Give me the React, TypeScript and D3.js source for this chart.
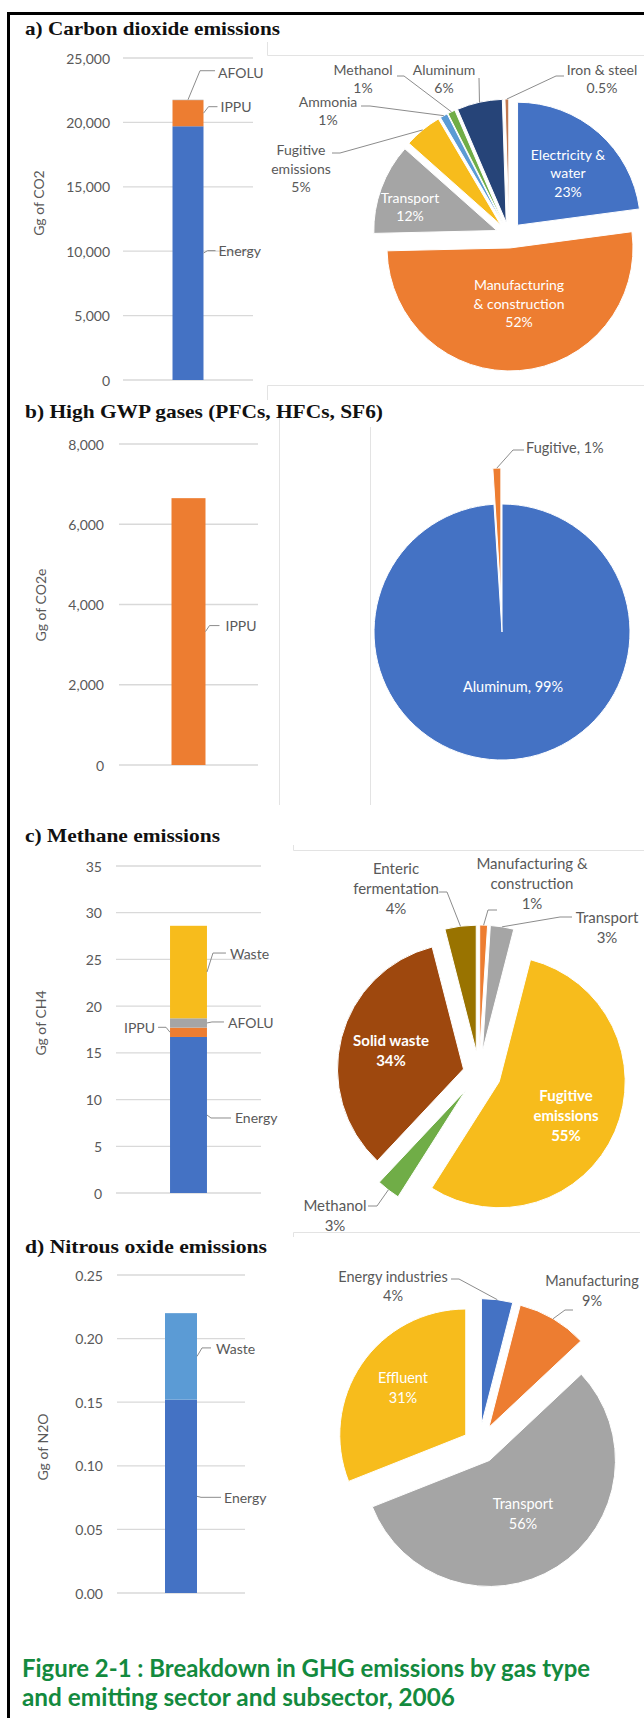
import React from "react";
import * as d3 from "d3";

// ================= DATA =================
// a) CO2 – bar (Gg)
const co2Sectors = ["Energy", "IPPU", "AFOLU"];
const co2Values = [19700, 2030, 30];
const co2Ticks = [0, 5000, 10000, 15000, 20000, 25000];
// a) CO2 – pie (%)
const co2PieCategories = ["Electricity & water", "Manufacturing & construction", "Transport", "Fugitive emissions", "Ammonia", "Methanol", "Aluminum", "Iron & steel"];
const co2PieShares = [23, 52, 12, 5, 1, 1, 6, 0.5];
const co2PieText = [["Electricity &", "water", "23%"], ["Manufacturing", "& construction", "52%"], ["Transport", "12%"], ["Fugitive", "emissions", "5%"], ["Ammonia", "1%"], ["Methanol", "1%"], ["Aluminum", "6%"], ["Iron & steel", "0.5%"]];

// b) High GWP gases – bar (Gg CO2e)
const gwpSectors = ["IPPU"];
const gwpValues = [6650];
const gwpTicks = [0, 2000, 4000, 6000, 8000];
// b) pie
const gwpPieCategories = ["Aluminum", "Fugitive"];
const gwpPieShares = [99, 1];
const gwpPieText = [["Aluminum, 99%"], ["Fugitive, 1%"]];

// c) CH4 – bar (Gg)
const ch4Sectors = ["Energy", "IPPU", "AFOLU", "Waste"];
const ch4Values = [16.7, 1.0, 1.0, 9.9];
const ch4Ticks = [0, 5, 10, 15, 20, 25, 30, 35];
// c) pie
const ch4PieCategories = ["Manufacturing & construction", "Transport", "Fugitive emissions", "Methanol", "Solid waste", "Enteric fermentation"];
const ch4PieShares = [1, 3, 55, 3, 34, 4];
const ch4PieText = [["Manufacturing &", "construction", "1%"], ["Transport", "3%"], ["Fugitive", "emissions", "55%"], ["Methanol", "3%"], ["Solid waste", "34%"], ["Enteric", "fermentation", "4%"]];

// d) N2O – bar (Gg)
const n2oSectors = ["Energy", "Waste"];
const n2oValues = [0.152, 0.068];
const n2oTicks = [0, 0.05, 0.1, 0.15, 0.2, 0.25];
// d) pie
const n2oPieCategories = ["Energy industries", "Manufacturing", "Transport", "Effluent"];
const n2oPieShares = [4, 9, 56, 31];
const n2oPieText = [["Energy industries", "4%"], ["Manufacturing", "9%"], ["Transport", "56%"], ["Effluent", "31%"]];

const panelTitles = ["a) Carbon dioxide emissions", "b) High GWP gases (PFCs, HFCs, SF6)", "c) Methane emissions", "d) Nitrous oxide emissions"];
const captionLines = ["Figure 2-1 : Breakdown in GHG emissions by gas type", "and emitting sector and subsector, 2006"];

// ================= STYLE =================
const FONT = "Lato, 'Open Sans', 'DejaVu Sans', sans-serif";
const SERIF = "'Liberation Serif', 'DejaVu Serif', serif";
const TXT = "#595959";
const GRID = "#d9d9d9";
const FRAME = "#e3e3e3";
const C = {
  blue: "#4472c4", orange: "#ed7d31", gray: "#a5a5a5", yellow: "#f7bc1c",
  lblue: "#5b9bd5", green: "#70ad47", navy: "#264478", brown: "#9e480e",
  gold: "#997300", rust: "#c07850",
};

type BarLabel = { seg: number; side: "right" | "left" | "top"; elbow: [number, number]; end: [number, number]; at: [number, number]; anchor?: "start" | "end" };

function BarPanel(p: {
  sectors: string[]; values: number[]; colors: string[]; ticks: number[]; fmt: (n: number) => string;
  yTitle: string; L: { x0: number; x1: number; y0: number; y1: number; pad: number; tickX: number; titleX: number; titleY: number };
  labels: BarLabel[];
}) {
  const { L } = p;
  const max = p.ticks[p.ticks.length - 1];
  const y = d3.scaleLinear().domain([0, max]).range([L.y0, L.y1]);
  const x = d3.scaleBand<string>().domain(["2006"]).range([L.x0, L.x1]).padding(L.pad);
  const bx = x("2006") as number;
  const bw = x.bandwidth();
  const stacked = d3.stack<any>().keys(p.sectors)([Object.fromEntries(p.sectors.map((s, i) => [s, p.values[i]]))]);
  return (
    <g fontFamily={FONT}>
      {p.ticks.map((t) => (
        <g key={t}>
          <line x1={L.x0} x2={L.x1} y1={y(t)} y2={y(t)} stroke={GRID} strokeWidth={1.3} />
          <text x={L.tickX} y={y(t)} textAnchor="end" dominantBaseline="central" fontSize={14} fill={TXT}>{p.fmt(t)}</text>
        </g>
      ))}
      <text transform={`translate(${L.titleX},${L.titleY}) rotate(-90)`} textAnchor="middle" dominantBaseline="central" fontSize={14} fill={TXT}>{p.yTitle}</text>
      {stacked.map((s, i) => (
        <rect key={p.sectors[i]} x={bx} width={bw} y={y(s[0][1])} height={Math.max(0, y(s[0][0]) - y(s[0][1]))} fill={p.colors[i]} />
      ))}
      {p.labels.map((lb) => {
        const s = stacked[lb.seg][0];
        let ax: number, ay: number;
        if (lb.side === "top") { ax = bx + bw / 2; ay = y(s[1]); }
        else { ax = lb.side === "right" ? bx + bw : bx; ay = (y(s[0]) + y(s[1])) / 2; }
        return (
          <g key={lb.seg}>
            <polyline points={`${ax},${ay} ${ax + lb.elbow[0]},${ay + lb.elbow[1]} ${ax + lb.end[0]},${ay + lb.end[1]}`} fill="none" stroke="#8c8c8c" strokeWidth={1} />
            <text x={ax + lb.at[0]} y={ay + lb.at[1]} textAnchor={lb.anchor || "start"} dominantBaseline="central" fontSize={14} fill={TXT}>{p.sectors[lb.seg]}</text>
          </g>
        );
      })}
    </g>
  );
}

type PieLabel = { i: number; at: [number, number]; fill?: string; bold?: boolean; anchor?: "start" | "middle" | "end"; leader?: [number, number][] };

function PiePanel(p: {
  shares: number[]; colors: string[]; text: string[][];
  L: { cx: number; cy: number; R: number; explode: number[]; fontSize: number; lh: number };
  labels: PieLabel[];
}) {
  const { L } = p;
  const arcs = d3.pie<number>().sort(null).value((d) => d)(p.shares);
  const arc = d3.arc<d3.PieArcDatum<number>>().innerRadius(0).outerRadius(L.R);
  const off = (i: number, r: number) => {
    const a = arcs[i];
    const m = (a.startAngle + a.endAngle) / 2;
    return [Math.sin(m) * r, -Math.cos(m) * r];
  };
  return (
    <g transform={`translate(${L.cx},${L.cy})`} fontFamily={FONT}>
      {arcs.map((a, i) => {
        const [tx, ty] = off(i, L.explode[i]);
        return <path key={i} d={arc(a) as string} transform={`translate(${tx},${ty})`} fill={p.colors[i]} stroke="#fff" strokeWidth={1} />;
      })}
      {p.labels.map((lb) => {
        const lines = p.text[lb.i];
        let leader = null;
        if (lb.leader) {
          const [rx, ry] = off(lb.i, L.R + L.explode[lb.i]);
          const pts = [[rx, ry], ...lb.leader].map((q) => q.join(",")).join(" ");
          leader = <polyline points={pts} fill="none" stroke="#8c8c8c" strokeWidth={1} />;
        }
        return (
          <g key={lb.i}>
            {leader}
            <text textAnchor={lb.anchor || "middle"} fontSize={L.fontSize} fontWeight={lb.bold ? 700 : 400} fill={lb.fill || TXT} dominantBaseline="central">
              {lines.map((ln, k) => (
                <tspan key={k} x={lb.at[0]} y={lb.at[1] + (k - (lines.length - 1) / 2) * L.lh}>{ln}</tspan>
              ))}
            </text>
          </g>
        );
      })}
    </g>
  );
}

const fmtComma = d3.format(",");
const fmtInt = d3.format("d");
const fmt2 = d3.format(".2f");

export default function App() {
  return (
    <svg width={644} height={1718} style={{ position: "absolute", left: 0, top: 0, background: "#fff" }}>
      <rect width={644} height={1718} fill="#fff" />
      {/* faint chart-area frames */}
      <g fill="none" stroke={FRAME} strokeWidth={1}>
        <path d="M267.5,42 V55.5 H644" />
        <path d="M267.5,400 V385.5 H644" />
        <path d="M279.5,415 V805" />
        <path d="M370.5,427 V805" />
        <path d="M293.5,845 V850.5 H644" />
        <path d="M293.5,1237 V1232.5 H640" />
      </g>
      {/* outer border */}
      <path d="M8.5,1718 V13.5 H644" fill="none" stroke="#000" strokeWidth={3} />

      {/* titles */}
      <g fontFamily={SERIF} fontWeight={700} fontSize={19} fill="#111">
        <text x={25} y={35} textLength={255} lengthAdjust="spacingAndGlyphs">{panelTitles[0]}</text>
        <text x={25} y={418} textLength={358} lengthAdjust="spacingAndGlyphs">{panelTitles[1]}</text>
        <text x={25} y={842} textLength={195} lengthAdjust="spacingAndGlyphs">{panelTitles[2]}</text>
        <text x={25} y={1253} textLength={242} lengthAdjust="spacingAndGlyphs">{panelTitles[3]}</text>
      </g>

      {/* a) bar */}
      <BarPanel sectors={co2Sectors} values={co2Values} colors={[C.blue, C.orange, C.gray]} ticks={co2Ticks} fmt={fmtComma}
        yTitle="Gg of CO2" L={{ x0: 123, x1: 253, y0: 380, y1: 58, pad: 0.615, tickX: 110, titleX: 38, titleY: 203 }}
        labels={[
          { seg: 2, side: "top", elbow: [12, -29], end: [27, -29], at: [30, -27] },
          { seg: 1, side: "right", elbow: [5, -6.5], end: [14, -6.5], at: [17, -6.5] },
          { seg: 0, side: "right", elbow: [4, -2.5], end: [12, -2.5], at: [15, -2.5] },
        ]} />
      {/* a) pie */}
      <PiePanel shares={co2PieShares} colors={[C.blue, C.orange, C.gray, C.yellow, C.lblue, C.green, C.navy, C.rust]} text={co2PieText}
        L={{ cx: 509, cy: 235, R: 123, explode: co2PieShares.map(() => 13), fontSize: 14, lh: 18.5 }}
        labels={[
          { i: 0, at: [59, -63], fill: "#fff" },
          { i: 1, at: [10, 67.5], fill: "#fff" },
          { i: 2, at: [-99, -29], fill: "#fff" },
          { i: 3, at: [-208, -67.5], leader: [[-169, -82], [-177, -82]] },
          { i: 4, at: [-181, -125], leader: [[-139, -129], [-148, -129]] },
          { i: 5, at: [-146, -157], leader: [[-105, -159], [-112, -159]] },
          { i: 6, at: [-65, -157], leader: [[-30, -157]] },
          { i: 7, at: [93, -157], leader: [[47, -159], [55, -159]] },
        ]} />

      {/* b) bar */}
      <BarPanel sectors={gwpSectors} values={gwpValues} colors={[C.orange]} ticks={gwpTicks} fmt={fmtComma}
        yTitle="Gg of CO2e" L={{ x0: 119, x1: 258, y0: 765, y1: 444, pad: 0.607, tickX: 104, titleX: 40, titleY: 605 }}
        labels={[{ seg: 0, side: "right", elbow: [4, -6], end: [14, -6], at: [20, -6] }]} />
      {/* b) pie */}
      <PiePanel shares={gwpPieShares} colors={[C.blue, C.orange]} text={gwpPieText}
        L={{ cx: 502, cy: 632, R: 128, explode: [0, 36], fontSize: 14.5, lh: 19 }}
        labels={[
          { i: 0, at: [11, 54], fill: "#fff" },
          { i: 1, at: [24, -185], anchor: "start", leader: [[11, -182], [22, -182]] },
        ]} />

      {/* c) bar */}
      <BarPanel sectors={ch4Sectors} values={ch4Values} colors={[C.blue, C.orange, C.gray, C.yellow]} ticks={ch4Ticks} fmt={fmtInt}
        yTitle="Gg of CH4" L={{ x0: 116, x1: 261, y0: 1193, y1: 866, pad: 0.594, tickX: 102, titleX: 40, titleY: 1023 }}
        labels={[
          { seg: 0, side: "right", elbow: [4, 3], end: [24, 3], at: [28, 3] },
          { seg: 1, side: "left", elbow: [-4, -5], end: [-12, -5], at: [-15, -4.5], anchor: "end" },
          { seg: 2, side: "right", elbow: [5, -1], end: [17, -1], at: [21, 0] },
          { seg: 3, side: "right", elbow: [6, -19], end: [19, -19], at: [23, -19] },
        ]} />
      {/* c) pie */}
      <PiePanel shares={ch4PieShares} colors={[C.orange, C.gray, C.yellow, C.green, C.brown, C.gold]} text={ch4PieText}
        L={{ cx: 479, cy: 1073, R: 126, explode: [22, 22, 22, 22, 16, 22], fontSize: 15, lh: 20 }}
        labels={[
          { i: 0, at: [53, -190], leader: [[9, -163], [18, -163]] },
          { i: 1, at: [128, -146], leader: [[81, -156], [93, -156]] },
          { i: 2, at: [87, 42], fill: "#fff", bold: true },
          { i: 3, at: [-144, 142], leader: [[-102, 133], [-111, 133]] },
          { i: 4, at: [-88, -23.5], fill: "#fff", bold: true },
          { i: 5, at: [-83, -185], leader: [[-32, -181], [-40, -181]] },
        ]} />

      {/* d) bar */}
      <BarPanel sectors={n2oSectors} values={n2oValues} colors={[C.blue, C.lblue]} ticks={n2oTicks} fmt={fmt2}
        yTitle="Gg of N2O" L={{ x0: 117, x1: 245, y0: 1593, y1: 1275, pad: 0.6, tickX: 103, titleX: 42, titleY: 1447 }}
        labels={[
          { seg: 0, side: "right", elbow: [4, 1], end: [24, 1], at: [27, 1.5] },
          { seg: 1, side: "right", elbow: [5, -8.5], end: [14, -8.5], at: [19, -7.5] },
        ]} />
      {/* d) pie */}
      <PiePanel shares={n2oPieShares} colors={[C.blue, C.orange, C.gray, C.yellow]} text={n2oPieText}
        L={{ cx: 479, cy: 1444, R: 126, explode: [19.5, 19.5, 19.5, 16], fontSize: 14.5, lh: 19.5 }}
        labels={[
          { i: 0, at: [-86, -158.5], leader: [[-20, -165], [-28, -165]] },
          { i: 1, at: [113, -154], leader: [[86, -134], [94, -134]] },
          { i: 2, at: [44, 69], fill: "#fff" },
          { i: 3, at: [-76, -57], fill: "#fff" },
        ]} />

      {/* caption */}
      <g fontFamily="Lato, 'Open Sans', sans-serif" fontWeight={700} fontSize={25} fill="#138a3e">
        <text x={22} y={1677} textLength={568} lengthAdjust="spacingAndGlyphs">{captionLines[0]}</text>
        <text x={22} y={1706} textLength={433} lengthAdjust="spacingAndGlyphs">{captionLines[1]}</text>
      </g>
    </svg>
  );
}
